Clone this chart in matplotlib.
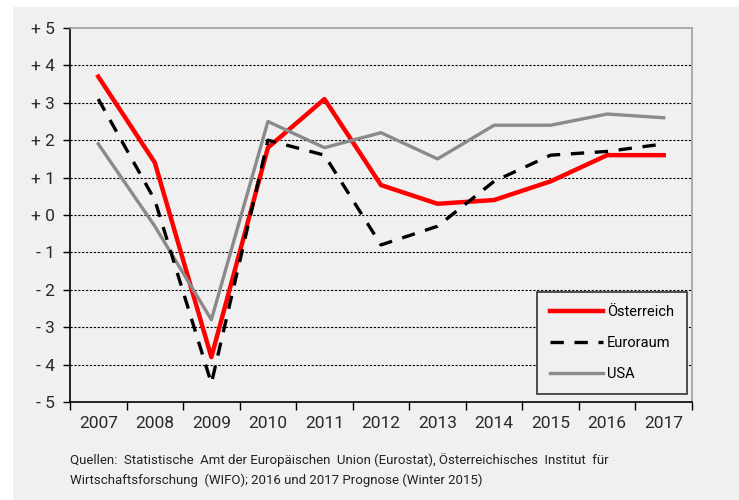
import matplotlib
matplotlib.use("Agg")
import matplotlib.pyplot as plt
from matplotlib.patches import Rectangle

years = ["2007", "2008", "2009", "2010", "2011", "2012", "2013", "2014", "2015", "2016", "2017"]
oesterreich = [3.7, 1.4, -3.8, 1.8, 3.1, 0.8, 0.3, 0.4, 0.9, 1.6, 1.6]
euroraum = [3.1, 0.4, -4.5, 2.0, 1.6, -0.8, -0.3, 0.9, 1.6, 1.7, 1.9]
usa = [1.9, -0.3, -2.8, 2.5, 1.8, 2.2, 1.5, 2.4, 2.4, 2.7, 2.6]
yticks = [5, 4, 3, 2, 1, 0, -1, -2, -3, -4, -5]
yticklabels = ["+ 5", "+ 4", "+ 3", "+ 2", "+ 1", "+ 0", "- 1", "- 2", "- 3", "- 4", "- 5"]
caption = ("Quellen:  Statistische  Amt der Europäischen  Union (Eurostat), Österreichisches  Institut  für\n"
           "Wirtschaftsforschung  (WIFO); 2016 und 2017 Prognose (Winter 2015)")

plt.rcParams['font.family'] = ['Roboto', 'DejaVu Sans']
W, H = 739, 500
fig = plt.figure(figsize=(W / 100, H / 100), dpi=100, facecolor="white")
bg = "#f0f0f0"
fig.patches.append(Rectangle((13 / W, 0), 1 - 13 / W, 1 - 7 / H, transform=fig.transFigure,
                             facecolor=bg, edgecolor="none", zorder=-10))

left, right, top, bottom = 70, 692, 28, 402
ax = fig.add_axes([left / W, 1 - bottom / H, (right - left) / W, (bottom - top) / H])
ax.set_zorder(5)
ax.set_facecolor(bg)

x = list(range(len(years)))
ax.plot(x, oesterreich, color="#ff0000", lw=3.2, label="Österreich", zorder=3)
ax.plot(x, usa, color="#8a8a8a", lw=2.4, label="USA", zorder=4)
ax.plot(x, euroraum, color="black", lw=2.4, dashes=(4, 3.2), label="Euroraum", zorder=5)

ax.set_xlim(-0.5, len(years) - 0.5)
ax.set_ylim(-5, 5)
ax.set_yticks(yticks)
ax.set_yticklabels(yticklabels, fontsize=12.5, color="#2a2a2a")
ax.set_xticks([i - 0.5 for i in range(len(years) + 1)])
ax.set_xticklabels([])
ax.set_xticks(x, minor=True)
ax.set_xticklabels(years, minor=True, fontsize=12.5, color="#2a2a2a")
ax.tick_params(axis="x", which="minor", length=0, pad=10)
ax.tick_params(axis="x", which="major", length=6, width=1, direction="out", color="black")
ax.tick_params(axis="y", length=5, width=1, direction="out", color="black", pad=6)

for v in yticks:
    if -5 < v < 5:
        ax.axhline(v, color="black", lw=0.8, ls=(0, (2, 1.5)), zorder=1)

ax.spines["left"].set_color("black")
ax.spines["bottom"].set_color("black")
ax.spines["top"].set_color("#a0a0a0")
ax.spines["right"].set_color("#a0a0a0")
for s in ax.spines.values():
    s.set_linewidth(1.2)

handles, labels = ax.get_legend_handles_labels()
order = [0, 2, 1]
leg = ax.legend([handles[i] for i in order], [labels[i] for i in order],
                loc="lower right", bbox_to_anchor=((687 - left) / (right - left), (bottom - 394) / (bottom - top)),
                fontsize=10.5, frameon=True, fancybox=False, handlelength=3.6, handletextpad=0.3,
                labelspacing=1.15, borderpad=0.9, borderaxespad=0)
leg.get_frame().set_edgecolor("#333333")
leg.get_frame().set_facecolor(bg)
leg.get_frame().set_linewidth(1.2)
leg.get_frame().set_alpha(1)

fig.text(70 / W, 1 - 470 / H, caption, fontsize=9.5, color="#222222", va="center", ha="left",
         linespacing=1.6)

fig.savefig("out.png", dpi=100, facecolor="white")
